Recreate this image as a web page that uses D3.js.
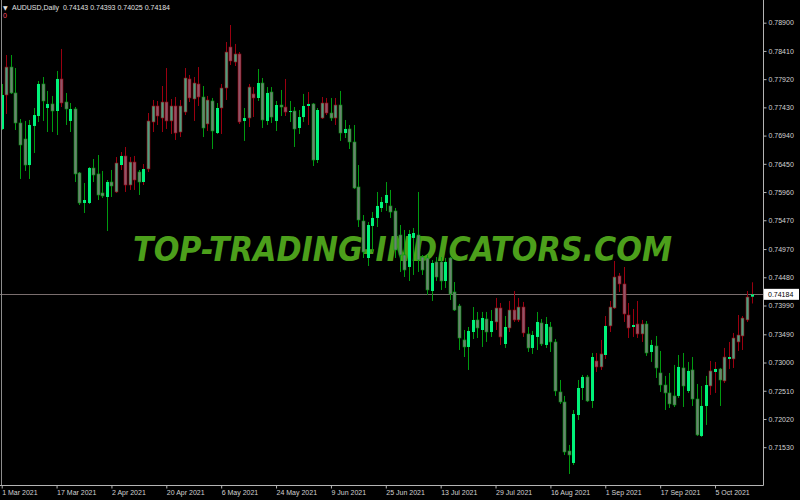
<!DOCTYPE html>
<html>
<head>
<meta charset="utf-8">
<script src="https://cdn.jsdelivr.net/npm/d3@7"></script>
<style>
  html, body { margin: 0; padding: 0; background: #000; }
  svg { display: block; }
</style>
</head>
<body>
<svg id="chart" width="800" height="500"></svg>
<script>
// ---- data (AUDUSD, Daily) ----
const symbolTitle = "AUDUSD,Daily";
const lastOHLC = ["0.74143", "0.74393", "0.74025", "0.74184"];
const currentPrice = 0.74184;

const opens = [0.77055,0.77645,0.78130,0.77680,0.77159,0.76881,0.76429,0.77107,0.77280,0.77836,
0.77419,0.77489,0.77367,0.77923,0.77523,0.77194,0.77402,0.76291,0.75770,0.75770,
0.76377,0.76274,0.75944,0.75874,0.76134,0.75961,0.76429,0.76586,0.76082,0.76481,
0.76308,0.76134,0.76360,0.77176,0.77454,0.77245,0.77523,0.77194,0.77454,0.77002,
0.77349,0.77923,0.77575,0.77836,0.77610,0.77142,0.77541,0.76985,0.77419,0.77766,
0.78478,0.78217,0.78357,0.77194,0.77245,0.77663,0.77593,0.77853,0.77194,0.77697,
0.77194,0.77471,0.77436,0.77349,0.77367,0.77072,0.77262,0.77454,0.77489,0.76516,
0.77245,0.77506,0.77332,0.77245,0.77471,0.76985,0.77055,0.76829,0.76048,0.75457,
0.74815,0.75371,0.75510,0.75683,0.75770,0.75718,0.75631,0.75214,0.74867,0.74659,
0.75163,0.75214,0.74832,0.74815,0.74242,0.74746,0.74746,0.74416,0.74815,0.74225,
0.73982,0.73392,0.73270,0.73530,0.73739,0.73565,0.73756,0.73530,0.73704,0.73947,
0.73322,0.73600,0.73912,0.73739,0.73964,0.73496,0.73253,0.73444,0.73687,0.73305,
0.73617,0.73357,0.72489,0.72315,0.71464,0.71256,0.72089,0.72558,0.72749,0.72333,
0.73027,0.72923,0.73131,0.73635,0.73947,0.74503,0.74364,0.73825,0.73617,0.73669,
0.73496,0.73669,0.73183,0.73287,0.72819,0.72610,0.72472,0.72420,0.72420,0.72906,
0.72506,0.72871,0.72367,0.71725,0.72246,0.72593,0.72836,0.72888,0.72680,0.73062,
0.73062,0.73357,0.73461,0.73739,0.74143];

const highs = [0.77836,0.78339,0.78339,0.78113,0.77228,0.77194,0.77211,0.77419,0.77888,0.77957,
0.77715,0.77628,0.78062,0.78444,0.77680,0.77506,0.77436,0.76308,0.76117,0.76394,
0.76534,0.76603,0.76326,0.76169,0.76343,0.76568,0.76655,0.76742,0.76568,0.76586,
0.76343,0.76447,0.77332,0.77558,0.77541,0.77801,0.78113,0.77575,0.77610,0.77558,
0.78113,0.77992,0.77957,0.78130,0.77801,0.77628,0.77593,0.77506,0.77836,0.78565,
0.78860,0.78531,0.78391,0.77419,0.77836,0.77783,0.78096,0.77940,0.77783,0.77783,
0.77541,0.77732,0.77923,0.77541,0.77436,0.77384,0.77663,0.77697,0.77506,0.77419,
0.77610,0.77593,0.77593,0.77593,0.77715,0.77211,0.77124,0.77124,0.76429,0.75561,
0.75440,0.75613,0.75961,0.75874,0.76134,0.75996,0.75683,0.75388,0.75301,0.75301,
0.75336,0.75961,0.74867,0.74867,0.74780,0.74832,0.74832,0.74815,0.74832,0.74398,
0.74017,0.73565,0.73617,0.73964,0.73878,0.73878,0.73878,0.73912,0.74121,0.74034,
0.73808,0.74069,0.74242,0.74121,0.74052,0.73617,0.73548,0.73878,0.73756,0.73791,
0.73704,0.73409,0.72697,0.72420,0.71569,0.72176,0.72697,0.72784,0.72784,0.73166,
0.73166,0.73392,0.73808,0.74069,0.74763,0.74555,0.74659,0.74034,0.73930,0.74069,
0.73739,0.73721,0.73392,0.73461,0.73201,0.72767,0.72819,0.72958,0.73131,0.73166,
0.73010,0.73096,0.72628,0.72593,0.72767,0.73027,0.73010,0.72906,0.73253,0.73357,
0.73513,0.73825,0.73808,0.74242,0.74393];

const lows = [0.77037,0.77315,0.77662,0.77037,0.76187,0.76326,0.76187,0.76638,0.77176,0.77194,
0.77002,0.77002,0.76950,0.77436,0.77124,0.77002,0.76134,0.75735,0.75596,0.75752,
0.76134,0.75822,0.75857,0.75284,0.75874,0.75944,0.76343,0.75961,0.75996,0.75996,
0.75909,0.76082,0.76308,0.77002,0.77124,0.77002,0.77055,0.76968,0.76864,0.76915,
0.77297,0.77523,0.77194,0.77454,0.76915,0.77020,0.76707,0.76968,0.76968,0.77558,
0.78165,0.78148,0.77142,0.76847,0.77089,0.77262,0.77541,0.77072,0.77124,0.77159,
0.77020,0.77280,0.77280,0.77176,0.76742,0.76968,0.77176,0.77124,0.76412,0.76464,
0.77228,0.77297,0.77194,0.77124,0.76847,0.76898,0.76707,0.76013,0.75353,0.74815,
0.74676,0.74919,0.75353,0.75613,0.75631,0.75510,0.74815,0.74572,0.74485,0.74416,
0.74520,0.74572,0.74520,0.74173,0.74069,0.74416,0.74260,0.74294,0.74086,0.73895,
0.73218,0.73096,0.72871,0.73409,0.73426,0.73270,0.73357,0.73444,0.73565,0.73305,
0.73253,0.73530,0.73704,0.73704,0.73444,0.73183,0.73149,0.73218,0.73287,0.73253,
0.73183,0.72420,0.72281,0.71395,0.71065,0.71221,0.72003,0.72350,0.72315,0.72211,
0.72836,0.72871,0.73062,0.73530,0.73930,0.74225,0.73704,0.73426,0.73444,0.73426,
0.73357,0.73114,0.73010,0.72732,0.72489,0.72176,0.72211,0.72228,0.72385,0.72228,
0.72472,0.72246,0.71725,0.71708,0.71916,0.72437,0.72472,0.72246,0.72645,0.72888,
0.72906,0.73201,0.73218,0.73704,0.74025];

const closes = [0.77645,0.78130,0.77680,0.77159,0.76777,0.76429,0.77124,0.77297,0.77836,0.77541,
0.77489,0.77367,0.77923,0.77506,0.77402,0.77402,0.76274,0.75770,0.75822,0.76377,
0.76256,0.75909,0.75892,0.76134,0.76065,0.76464,0.76586,0.76082,0.76481,0.76169,
0.76134,0.76360,0.77194,0.77454,0.77280,0.77523,0.77194,0.77454,0.76985,0.77454,
0.77940,0.77593,0.77853,0.77610,0.77072,0.77558,0.77020,0.77419,0.77766,0.78391,
0.78235,0.78357,0.77176,0.77245,0.77783,0.77593,0.77853,0.77211,0.77680,0.77262,
0.77471,0.77436,0.77349,0.77367,0.77055,0.77262,0.77454,0.77489,0.76516,0.77384,
0.77506,0.77332,0.77245,0.77471,0.76985,0.77055,0.76829,0.76030,0.75475,0.74919,
0.75388,0.75510,0.75718,0.75787,0.75909,0.75613,0.74954,0.74867,0.74607,0.75232,
0.75249,0.74780,0.74607,0.74260,0.74728,0.74485,0.74416,0.74746,0.74190,0.73912,
0.73426,0.73270,0.73548,0.73739,0.73600,0.73773,0.73530,0.73721,0.73947,0.73444,
0.73617,0.73912,0.73739,0.73964,0.73513,0.73253,0.73478,0.73704,0.73322,0.73669,
0.73357,0.72506,0.72315,0.71447,0.71395,0.72107,0.72558,0.72749,0.72333,0.73096,
0.72923,0.73149,0.73635,0.73964,0.74485,0.74364,0.73843,0.73600,0.73652,0.73496,
0.73669,0.73166,0.73305,0.72906,0.72610,0.72472,0.72281,0.72263,0.72923,0.72593,
0.72854,0.72367,0.71743,0.72246,0.72610,0.72854,0.72888,0.72697,0.73096,0.73096,
0.73426,0.73478,0.73773,0.74138,0.74184];

// body colour state per bar: b = bright, n = neutral, t = teal, p = pink
const bodyStates = ("btnnnnbbbn" + "bnbpnbnnbb" + "nnnbntbptp" + "nbttptptpt" + "tptpntnbtt" +
  "ptpbtpbnbn" + "bnpbnbbbnb" + "tpntnbnnnn" + "bbbbbnnnnb" + "bnnnbnnbnn" +
  "nnbbnbnbtp" + "btptpnbbnb" + "nnnnnbbbnb" + "ptbttpppbp" + "tnbnnnnnbn" +
  "bnnbbtbntb" + "ttttb").split("");
// wick colour state per bar: g = green, r = red
const wickStates = ("grgggggggg" + "gggrgggggg" + "gggggrrrrr" + "grrrrrrrrr" + "rrrrgrggrr" +
  "rrrgrrgggg" + "ggrggggrgg" + "rrgrgggggg" + "gggggggggg" + "gggggggggg" +
  "ggggggggrr" + "grrrrggggg" + "gggggggggg" + "rrrrrrrrrr" + "rggggggggg" +
  "gggggrrgrr" + "rrrrr").split("");

const priceTicks = [0.78900,0.78410,0.77920,0.77430,0.76940,0.76450,0.75960,0.75470,
                    0.74970,0.74480,0.73990,0.73490,0.73000,0.72510,0.72020,0.71530];
const dateTickIndex = [0,12,24,36,48,60,72,84,96,108,120,132,144,156];
const dateTickLabels = ["1 Mar 2021","17 Mar 2021","2 Apr 2021","20 Apr 2021","6 May 2021",
  "24 May 2021","9 Jun 2021","25 Jun 2021","13 Jul 2021","29 Jul 2021","16 Aug 2021",
  "1 Sep 2021","17 Sep 2021","5 Oct 2021"];
const watermark = "TOP-TRADING-INDICATORS.COM";

// ---- styles ----
const bodyFill = { b: "#00f27a", n: "#6c8070", t: "#4c9e7e", p: "#8f5567" };
const wickColor = { g: "#009a10", r: "#9a0010" };
const axisText = "#d2d2d2";
const frameColor = "#b4b4b4";
const font = "'Liberation Sans', Arial, sans-serif";

const svg = d3.select("#chart");
svg.append("rect").attr("width", 800).attr("height", 500).attr("fill", "#000");

const n = opens.length;
const x = d3.scaleLinear().domain([0, n - 1]).range([1.7, 751.6]);
const y = d3.scaleLinear().domain([0.71530, 0.78900]).range([447.2, 22.7]);

const plotRight = 763, plotBottom = 485;

// watermark (behind candles)
svg.append("text")
  .attr("x", 133).attr("y", 261)
  .attr("textLength", 539).attr("lengthAdjust", "spacingAndGlyphs")
  .attr("font-family", "'DejaVu Sans', sans-serif")
  .attr("font-weight", "bold").attr("font-style", "italic")
  .attr("font-size", 33)
  .attr("fill", "#4c9f1b")
  .text(watermark);

// current price line
svg.append("line")
  .attr("x1", 0).attr("x2", plotRight)
  .attr("y1", Math.round(y(currentPrice)) + 0.5).attr("y2", Math.round(y(currentPrice)) + 0.5)
  .attr("stroke", "#7a6e6e").attr("stroke-width", 1);

// candles
const bars = d3.range(n).map(i => ({
  i, o: opens[i], h: highs[i], l: lows[i], c: closes[i], b: bodyStates[i], w: wickStates[i]
}));

const g = svg.append("g");
g.selectAll("line.wick").data(bars).join("line")
  .attr("class", "wick")
  .attr("x1", d => Math.round(x(d.i)) + 0.5)
  .attr("x2", d => Math.round(x(d.i)) + 0.5)
  .attr("y1", d => y(d.h))
  .attr("y2", d => y(d.l))
  .attr("stroke", d => wickColor[d.w])
  .attr("stroke-width", 1);

g.selectAll("rect.body").data(bars).join("rect")
  .attr("class", "body")
  .attr("x", d => Math.round(x(d.i)) - 1)
  .attr("width", 3)
  .attr("y", d => y(Math.max(d.o, d.c)))
  .attr("height", d => Math.max(1, Math.abs(y(d.o) - y(d.c))))
  .attr("fill", d => bodyFill[d.b])
  .attr("stroke", d => d.b === "b" ? "none" : wickColor[d.w])
  .attr("stroke-width", 0.6);

// frame
svg.append("line").attr("x1", 1.5).attr("x2", 1.5).attr("y1", 0).attr("y2", plotBottom)
  .attr("stroke", "#8c8c8c");
svg.append("line").attr("x1", 0).attr("x2", plotRight + 0.5).attr("y1", plotBottom + 0.5).attr("y2", plotBottom + 0.5)
  .attr("stroke", frameColor);
svg.append("line").attr("x1", plotRight + 0.5).attr("x2", plotRight + 0.5).attr("y1", 0).attr("y2", plotBottom + 0.5)
  .attr("stroke", frameColor);

// right price axis
const yAxis = d3.axisRight(y).tickValues(priceTicks).tickFormat(d3.format(".5f")).tickSize(3).tickPadding(2);
const ya = svg.append("g").attr("transform", `translate(${plotRight + 0.5},0)`).call(yAxis);
ya.select(".domain").remove();
ya.selectAll(".tick line").attr("stroke", frameColor);
ya.selectAll(".tick text").attr("fill", axisText).attr("font-family", font).attr("font-size", 7);

// bottom time axis
const xAxis = d3.axisBottom(x).tickValues(dateTickIndex)
  .tickFormat((d, k) => dateTickLabels[k]).tickSize(3).tickPadding(2);
const xa = svg.append("g").attr("transform", `translate(0,${plotBottom + 0.5})`).call(xAxis);
xa.select(".domain").remove();
xa.selectAll(".tick line").attr("stroke", frameColor);
xa.selectAll(".tick text").attr("fill", axisText).attr("font-family", font).attr("font-size", 7)
  .attr("text-anchor", "start");

// current price label box
const cy = y(currentPrice);
svg.append("rect").attr("x", plotRight + 1).attr("y", cy - 5.5).attr("width", 35).attr("height", 11)
  .attr("fill", "#ffffff");
svg.append("text").attr("x", plotRight + 5).attr("y", cy).attr("dy", "0.35em")
  .attr("font-family", font).attr("font-size", 7).attr("fill", "#000")
  .text(d3.format(".5f")(currentPrice));

// header
svg.append("text").attr("x", 3).attr("y", 9.5)
  .attr("font-family", "'DejaVu Sans', sans-serif").attr("font-size", 6).attr("fill", "#e0e0e0")
  .text("\u25BC");
svg.append("text").attr("x", 12).attr("y", 10)
  .attr("font-family", font).attr("font-size", 7).attr("fill", "#e0e0e0")
  .attr("xml:space", "preserve")
  .text(symbolTitle + "  " + lastOHLC.join(" "));
svg.append("text").attr("x", 3).attr("y", 18)
  .attr("font-family", font).attr("font-size", 7).attr("fill", "#ff4d6a")
  .text("0");
</script>
</body>
</html>
